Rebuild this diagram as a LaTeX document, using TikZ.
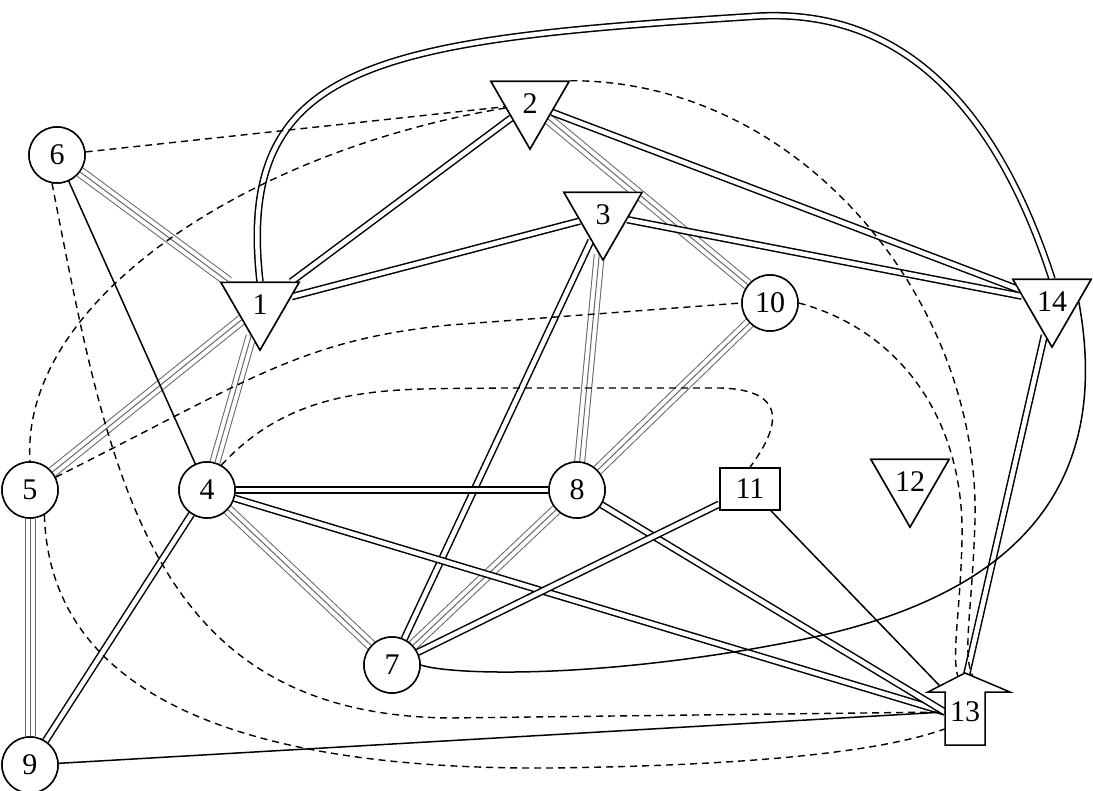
\documentclass[tikz,border=0pt]{standalone}
\usepackage{fontspec}
\setmainfont{Liberation Serif}
\usetikzlibrary{shapes.geometric}
\begin{document}
\begin{tikzpicture}[x=1pt,y=-1pt,
  every node/.style={font=\fontsize{30}{32}\selectfont, inner sep=0pt},
  circ/.style={circle, draw, line width=1.5pt, minimum size=56pt, fill=white},
  tri/.style={regular polygon, regular polygon sides=3, shape border rotate=180, draw, line width=1.5pt, minimum size=90pt},
  box/.style={rectangle, draw, line width=1.5pt, minimum width=60pt, minimum height=42pt, fill=white},
  sgl/.style={line width=1.5pt},
  dbl/.style={double, double distance=4.5pt, line width=1.5pt},
  trp/.style={preaction={draw=gray!80!black, line width=11pt}, preaction={draw=white, line width=9pt}, draw=gray!80!black, line width=1pt},
  dsh/.style={dashed, dash pattern=on 7pt off 5pt, line width=1.4pt}]
\useasboundingbox (0,0) rectangle (1093,791);
\node[circ] (n6) at (57,155) {};
\node[tri] (n2) at (530,104) {};
\node[tri] (n3) at (603,215) {};
\node[tri] (n1) at (260,305) {};
\node[circ] (n10) at (770,303) {};
\node[tri] (n14) at (1052,302) {};
\node[circ] (n5) at (30,490) {};
\node[circ] (n4) at (207,490) {};
\node[circ] (n8) at (577,490) {};
\node[box] (n11) at (750,489) {};
\node[tri] (n12) at (910,482) {};
\node[circ] (n7) at (392,665) {};
\node[rectangle, minimum width=40pt, minimum height=60pt] (n13) at (965,712) {};
\node[circ] (n9) at (30,765) {};
\begin{scope}
\draw[trp] (n6) -- (n1);
\draw[trp] (n1) -- (n5);
\draw[trp] (n1) -- (n4);
\draw[trp] (n2) -- (n10);
\draw[trp] (n3) -- (n8);
\draw[trp] (n10) -- (n8);
\draw[trp] (n4) -- (n7);
\draw[trp] (n8) -- (n7);
\draw[trp] (n5) -- (n9);
\draw[sgl] (n6) -- (n4);
\draw[sgl] (n11) -- (n13);
\draw[sgl] (n9) -- (n13.west);
\draw[dbl] (n1) -- (n2);
\draw[dbl] (n1) -- (n3);
\draw[dbl] (n2) -- (n14);
\draw[dbl] (n3) -- (n14);
\draw[dbl] (n3) -- (n7);
\draw[dbl] (n14) -- (n13.north);
\draw[dbl] (n4) -- (n8);
\draw[dbl] (n4) -- (n13.west);
\draw[dbl] (n4) -- (n9);
\draw[dbl] (n8) -- (n13.west);
\draw[dbl] (n11) -- (n7);
\draw[dbl] (n1.north) .. controls (235,60) and (380,40) .. (760,16)
   .. controls (930,8) and (1010,150) .. (n14.north);
\draw[sgl] (n14.east) .. controls (1115,500) and (1000,600) .. (800,640)
   .. controls (600,680) and (450,675) .. (n7.east);
\draw[dsh] (n6) -- (n2);
\draw[dsh] (n2) .. controls (250,150) and (20,300) .. (n5.north);
\draw[dsh] (n6.260) .. controls (110,480) and (150,715) .. (450,718) -- (n13.west);
\draw[dsh] (n5.300) .. controls (50,700) and (250,770) .. (550,768) .. controls (800,765) and (900,745) .. (n13.220);
\draw[dsh] (n5) .. controls (250,380) and (300,340) .. (450,325) -- (n10.west);
\draw[dsh] (n4.60) .. controls (300,380) and (400,390) .. (500,388) -- (720,388)
   .. controls (800,390) and (770,440) .. (n11.north);
\draw[dsh] (n2.30) .. controls (800,80) and (980,300) .. (975,520) .. controls (972,620) and (960,660) .. (n13.70);
\draw[dsh] (n10.east) .. controls (900,330) and (965,420) .. (962,540) .. controls (960,620) and (950,660) .. (n13.100);
\end{scope}
\foreach \n in {n6,n10,n5,n4,n8,n7,n9}{\node[circ] at (\n) {};}
\foreach \n in {n1,n2,n3,n14,n12}{\node[tri, fill=white] at (\n) {};}
\node[box] at (n11) {};
\draw[line width=1.5pt, fill=white] (945,745) -- (945,692) -- (928,692) -- (965,673) -- (1010,692) -- (985,692) -- (985,745) -- cycle;
\node at (n6) {6};
\node at (n10) {10};
\node at (n5) {5};
\node at (n4) {4};
\node at (n8) {8};
\node at (n7) {7};
\node at (n9) {9};
\node at (n1) {1};
\node at (n2) {2};
\node at (n3) {3};
\node at (n14) {14};
\node at (n12) {12};
\node at (n11) {11};
\node at (n13) {13};
\end{tikzpicture}
\end{document}
